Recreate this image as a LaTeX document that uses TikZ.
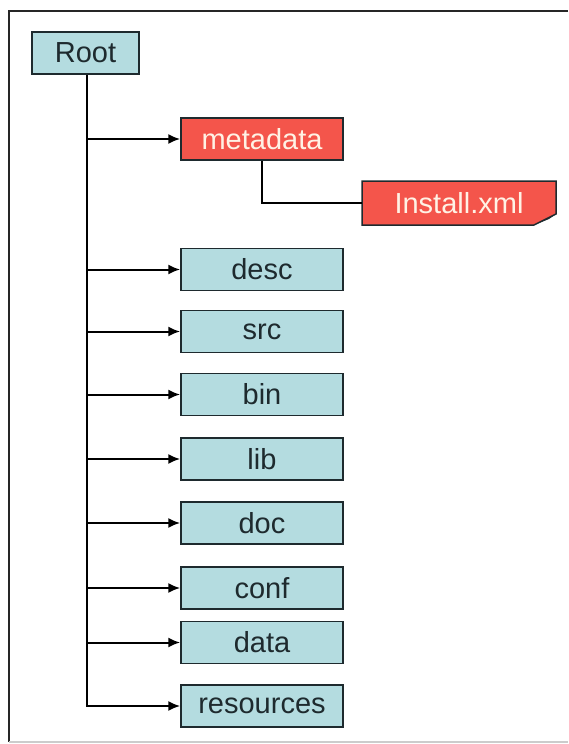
\documentclass[tikz,border=0pt]{standalone}
\usepackage{fontspec}
\setmainfont{Liberation Sans}
\usepackage{xcolor}
\usetikzlibrary{arrows.meta, backgrounds}

\definecolor{dirblue}{HTML}{B4DCE0}
\definecolor{filered}{HTML}{F4554B}
\definecolor{ink}{HTML}{1E2A2E}

\begin{document}
\begin{tikzpicture}[x=1pt, y=-1pt, line width=2pt, >={Latex[length=12pt,width=10pt]},
  every node/.style={font=\fontsize{29}{32}\selectfont, text=ink, inner sep=0pt, minimum height=42pt},
  dirbox/.style={draw=ink, line width=1.5pt, fill=dirblue, minimum width=162pt},
  redbox/.style={draw=ink, line width=1.5pt, fill=filered, text=white!90!orange, minimum width=162pt}]

\useasboundingbox (0,0) rectangle (568,744);
\draw[line width=1.5pt, draw=black!85] (568,11) -- (9,11) -- (9,742);
\draw[line width=1.5pt, draw=black!20] (9,742) -- (568,742);

\node (root)[dirbox, minimum width=107pt] at (85.5,53) {Root};

\node (meta)[redbox] at (262,139) {metadata};
\node (inst)[text=white!90!orange, minimum width=192pt] at (459,203) {Install.xml};

% folded corner of the file
\begin{scope}[on background layer]
\draw[line width=1.5pt, draw=ink, fill=filered] (inst.north west) -- (inst.north east) -- ([yshift=11pt]inst.south east)
  -- ([xshift=-22pt]inst.south east) -- (inst.south west) -- cycle;
\fill[ink] ([yshift=11pt]inst.south east) -- ([xshift=-22pt]inst.south east) -- ([xshift=-7pt,yshift=6pt]inst.south east) -- cycle;
\end{scope}

\node (desc)[dirbox] at (262,269.5) {desc};
\node (src)[dirbox] at (262,331.5) {src};
\node (bin)[dirbox] at (262,394.5) {bin};
\node (lib)[dirbox] at (262,459) {lib};
\node (doc)[dirbox] at (262,523) {doc};
\node (conf)[dirbox] at (262,588) {conf};
\node (data)[dirbox] at (262,642.5) {data};
\node (res)[dirbox] at (262,706) {resources};

\coordinate (trunk) at ([xshift=1.5pt]root.south);
\draw[->] (trunk) |- (res.west);
\foreach \d in {meta, desc, src, bin, lib, doc, conf, data}
  \draw[->] (trunk |- \d.west) -- (\d.west);

\draw (meta.south) |- (inst.west);
\end{tikzpicture}
\end{document}
